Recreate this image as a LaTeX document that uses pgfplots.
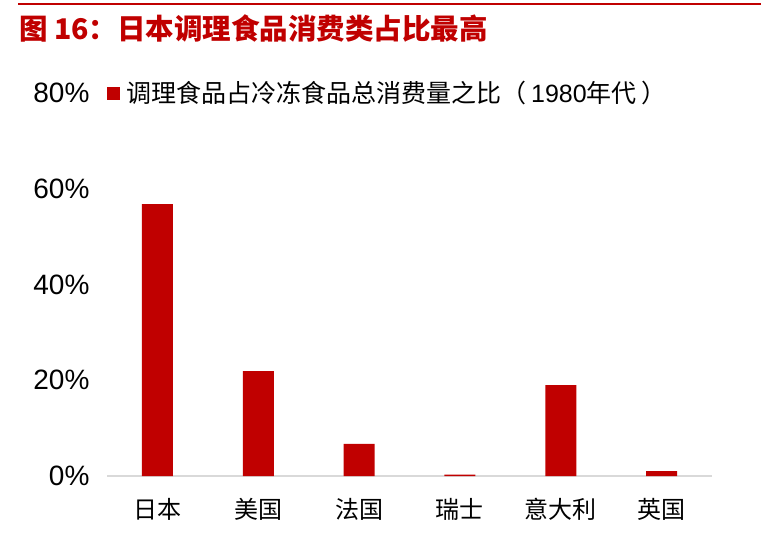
\documentclass[border=0pt]{standalone}
\usepackage{pgfplots}
\pgfplotsset{compat=1.18}
\usepackage{fontspec}
\setmainfont{Liberation Sans}
\newfontfamily\cjk{Noto Sans CJK SC}
\definecolor{bred}{HTML}{C00000}
\definecolor{axgray}{HTML}{D9D9D9}
\begin{document}
\begin{tikzpicture}
\useasboundingbox (0pt,0pt) rectangle (761pt,-537pt);
\draw[bred, line width=2pt] (18pt,-4pt) -- (761pt,-4pt);
\node[anchor=west, text=bred, inner sep=0pt, font=\cjk\bfseries\fontsize{28.5}{30}\selectfont] at (19pt,-28pt) {图 16：日本调理食品消费类占比最高};
\begin{axis}[
  at={(107pt,-476pt)}, anchor=south west,
  scale only axis, width=605pt, height=383pt,
  ybar, bar width=31pt,
  xmin=-0.5, xmax=5.5, ymin=0, ymax=80,
  xtick=data,
  xticklabels={日本,美国,法国,瑞士,意大利,英国},
  x tick label style={font=\cjk\fontsize{24}{26}\selectfont, yshift=-19pt},
  ytick={0,20,40,60,80},
  yticklabel={\pgfmathprintnumber{\tick}\%},
  /pgf/number format/assume math mode=true,
  y tick label style={font=\fontsize{28}{30}\selectfont, xshift=-14pt},
  major tick length=0pt,
  axis x line*=bottom,
  axis y line*=left,
  y axis line style={draw=none},
  x axis line style={draw=axgray, line width=2pt},
  legend style={at={(rel axis cs:0,1)}, anchor=west, draw=none, fill=none,
    font=\cjk\fontsize{25}{27}\selectfont, inner sep=0pt},
  legend image code/.code={\fill[bred] (3pt,-6.5pt) rectangle (16pt,6.5pt);},
]
\addplot[fill=bred, draw=none] coordinates {(0,56.8) (1,21.9) (2,6.7) (3,0.3) (4,19.0) (5,1.0)};
\addlegendentry{\hspace{4pt}调理食品占冷冻食品总消费量之比（\hspace{5pt}{\rmfamily 1980}年代\hspace{5pt}）}
\end{axis}
\end{tikzpicture}
\end{document}
